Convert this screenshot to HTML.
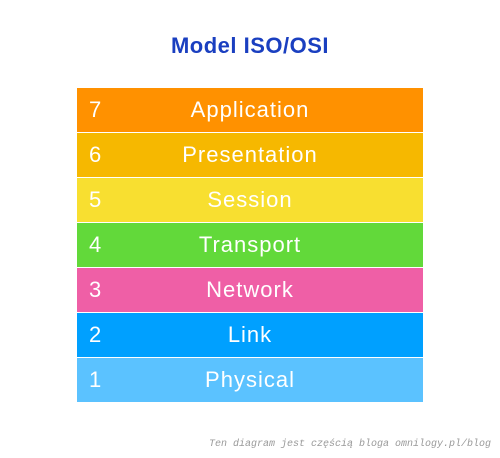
<!DOCTYPE html>
<html><head><style>
body{margin:0;width:500px;height:458px;background:#fff;position:relative;overflow:hidden;font-family:"Liberation Sans","DejaVu Sans",sans-serif}
.t{position:absolute;left:0;width:500px;top:33px;text-align:center;color:#1a3fc0;font-size:22px;font-weight:bold;letter-spacing:0.5px}
.b{position:absolute;left:77px;width:346px;height:44px;color:#fff;font-size:22px;letter-spacing:1px}
.b .n{position:absolute;left:12px;top:9px}
.b .l{position:absolute;left:0;width:346px;text-align:center;top:9px}
.f{position:absolute;right:9px;top:439px;font-family:"Liberation Mono",monospace;font-style:italic;font-size:10px;color:#999}
</style></head><body>
<div class="t">Model ISO/OSI</div>
<div class="b" style="top:88px;background:#ff9100"><span class="n">7</span><div class="l">Application</div></div>
<div class="b" style="top:133px;background:#f6b800"><span class="n">6</span><div class="l">Presentation</div></div>
<div class="b" style="top:178px;background:#f8df30"><span class="n">5</span><div class="l">Session</div></div>
<div class="b" style="top:223px;background:#62d93a"><span class="n">4</span><div class="l">Transport</div></div>
<div class="b" style="top:268px;background:#ef5fa6"><span class="n">3</span><div class="l">Network</div></div>
<div class="b" style="top:313px;background:#00a0ff"><span class="n">2</span><div class="l">Link</div></div>
<div class="b" style="top:358px;background:#5bc2ff"><span class="n">1</span><div class="l">Physical</div></div>
<div class="f">Ten diagram jest częścią bloga omnilogy.pl/blog</div>
</body></html>
